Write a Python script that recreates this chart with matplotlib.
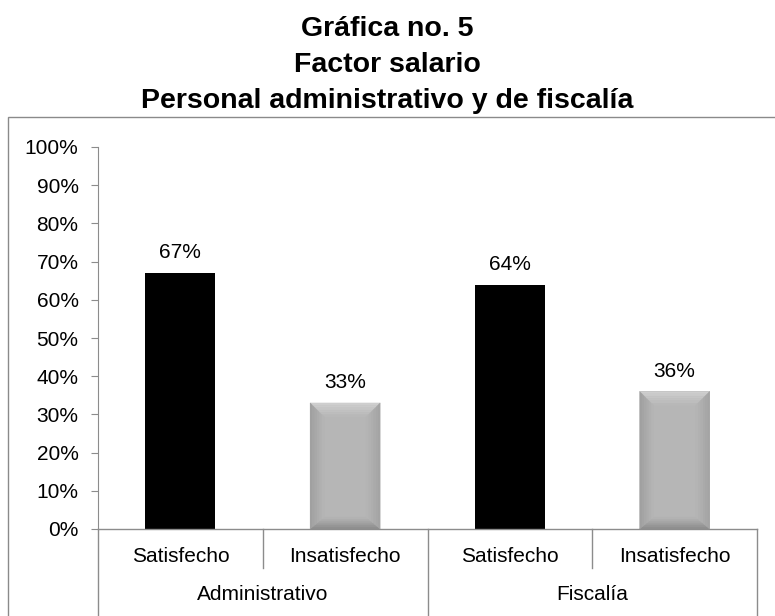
import matplotlib.pyplot as plt
import numpy as np
from matplotlib.colors import to_rgb
from matplotlib.patches import Polygon, Rectangle
from matplotlib.transforms import blended_transform_factory

plt.rcParams['font.family'] = ['Liberation Sans', 'DejaVu Sans']

title_lines = ['Gráfica no. 5', 'Factor salario', 'Personal administrativo y de fiscalía']
groups = ['Administrativo', 'Fiscalía']
categories = ['Satisfecho', 'Insatisfecho', 'Satisfecho', 'Insatisfecho']
values = [0.67, 0.33, 0.64, 0.36]
colors = ['black', '#b6b6b6', 'black', '#b6b6b6']
yticks = [i / 10 for i in range(11)]

W, H = 775, 616
fig = plt.figure(figsize=(W / 100, H / 100), dpi=100)

# outer chart frame (runs past the right and bottom edges)
fig.patches.append(Rectangle((8 / W, -0.01), 2, (H - 117) / H + 0.01, transform=fig.transFigure,
                             fill=False, edgecolor='#8a8a8a', linewidth=1.0))

for i, line in enumerate(title_lines):
    fig.text(0.5, 1 - (36 + 36 * i) / H, line, ha='center', va='baseline',
             fontsize=20.5, fontweight='bold')

ax = fig.add_axes([98 / W, (H - 529) / H, (757 - 98) / W, (529 - 147) / H])
ax.set_xlim(0, len(categories))
ax.set_ylim(0, 1)
for s in ['top', 'right', 'bottom']:
    ax.spines[s].set_visible(False)
ax.spines['left'].set_color('#8c8c8c')
ax.set_yticks(yticks)
ax.set_yticklabels([f'{int(round(t * 100))}%' for t in yticks], fontsize=15)
ax.tick_params(axis='y', length=5, color='#8c8c8c', pad=9)
ax.set_xticks([])

xs = [i + 0.5 for i in range(len(categories))]
bars = ax.bar(xs, values, width=0.425, color=colors, zorder=2)


def inset(b, f, bx, bt, bb):
    x0, w, h = b.get_x(), b.get_width(), b.get_height()
    return x0 + f * bx, f * bb, x0 + w - f * bx, h - f * bt


# soft bevel on the gray bars, drawn as stepped bands
bx, bt, bb = 0.085, 0.037, 0.031
edge_cols = {'top': '#d0d0d0', 'bottom': '#8a8a8a', 'left': '#9e9e9e', 'right': '#a2a2a2'}
steps = 6
for b, c in zip(bars, colors):
    if c == 'black':
        continue
    face = np.array(to_rgb(c))
    for k in range(steps):
        fa, fb = k / steps, (k + 1) / steps
        ax0, ay0, ax1, ay1 = inset(b, fa, bx, bt, bb)
        bx0, by0, bx1, by1 = inset(b, fb, bx, bt, bb)
        polys = {
            'top': [(ax0, ay1), (ax1, ay1), (bx1, by1), (bx0, by1)],
            'bottom': [(ax0, ay0), (ax1, ay0), (bx1, by0), (bx0, by0)],
            'left': [(ax0, ay0), (ax0, ay1), (bx0, by1), (bx0, by0)],
            'right': [(ax1, ay0), (ax1, ay1), (bx1, by1), (bx1, by0)],
        }
        t = (fa + fb) / 2
        for side, pts in polys.items():
            col = (1 - t) * np.array(to_rgb(edge_cols[side])) + t * face
            ax.add_patch(Polygon(pts, closed=True, facecolor=col, edgecolor=col,
                                 linewidth=0.3, zorder=3))

for x, v in zip(xs, values):
    ax.text(x, v + 0.028, f'{round(v * 100)}%', ha='center', va='bottom', fontsize=15, zorder=4)

# two-level category axis
tr = blended_transform_factory(ax.transData, fig.transFigure)
y0 = (H - 529) / H
y_mid = (H - 568) / H
ax.plot([0, len(categories)], [y0, y0], transform=tr, color='#8c8c8c', lw=1.0, clip_on=False)
n_per_group = len(categories) // len(groups)
for i in range(len(categories) + 1):
    bottom = -0.01 if i % n_per_group == 0 else y_mid
    ax.plot([i, i], [y0, bottom], transform=tr, color='#8c8c8c', lw=1.0, clip_on=False)
for x, cat in zip(xs, categories):
    ax.text(x, (H - 556) / H, cat, transform=tr, ha='center', va='center', fontsize=15)
for g, name in enumerate(groups):
    ax.text(g * n_per_group + n_per_group / 2, (H - 595) / H, name, transform=tr,
            ha='center', va='center', fontsize=15)

fig.savefig('out.png', dpi=100)
